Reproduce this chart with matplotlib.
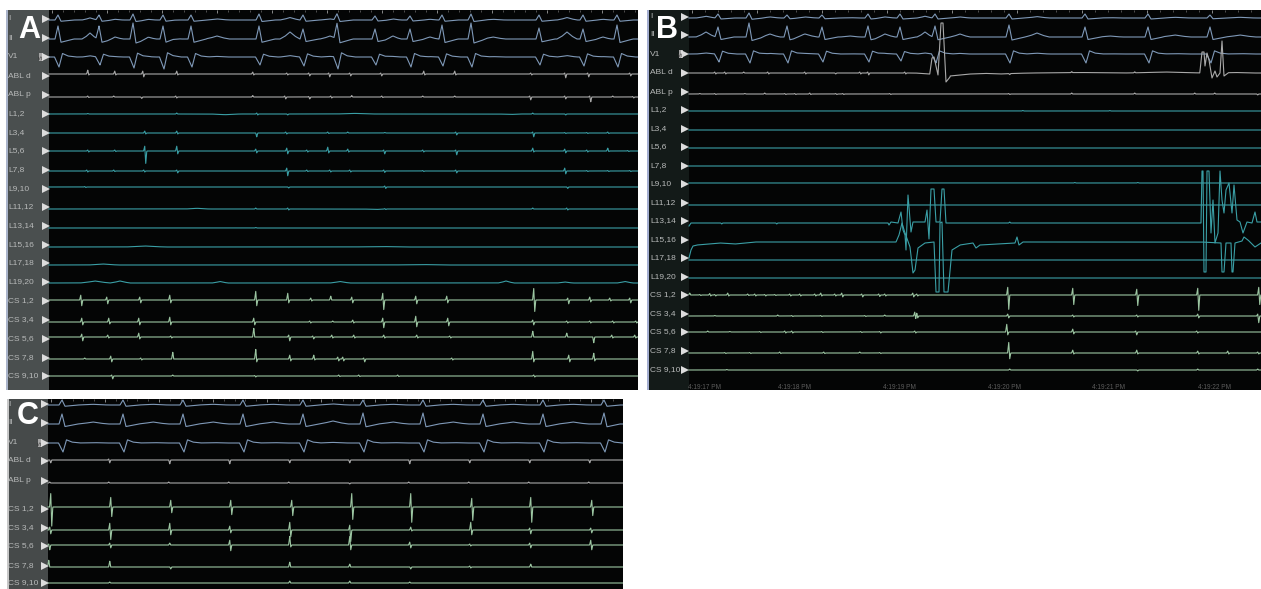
import numpy as np
import matplotlib
matplotlib.use('Agg')
import matplotlib.pyplot as plt

plt.rcParams['font.family'] = ['Liberation Sans', 'DejaVu Sans']

W, H = 1261, 589

ecg_color = '#7f99b8'
abl_color = '#a9a9a9'
lasso_color = '#3a9fa6'
cs_color = '#9cc6a2'

labels_full = ['I', 'II', 'V1', 'ABL d', 'ABL p', 'L1,2', 'L3,4', 'L5,6', 'L7,8', 'L9,10', 'L11,12',
               'L13,14', 'L15,16', 'L17,18', 'L19,20', 'CS 1,2', 'CS 3,4', 'CS 5,6', 'CS 7,8', 'CS 9,10']
labels_c = ['I', 'II', 'V1', 'ABL d', 'ABL p', 'CS 1,2', 'CS 3,4', 'CS 5,6', 'CS 7,8', 'CS 9,10']

# panel A
a_base = [20, 39, 57, 74, 97, 114, 133, 151, 171, 187, 209, 228, 247, 265, 283, 300, 322, 337, 359, 376]
a_label_y = [19, 38, 57, 76, 95, 114, 133, 151, 170, 189, 207, 226, 245, 263, 282, 301, 320, 339, 358, 376]
a_beats = [58, 99, 133, 163, 191, 259, 303, 337, 375, 410, 442, 471, 539, 583, 617]
a_i = [5, 5, 6, 5, 5, 6, 5, 6, 4, 4, 5, 6, 5, 5, 5]
a_ii = [13, 13, 16, 13, 13, 13, 10, 15, 10, 10, 14, 16, 11, 10, 14]
a_v1 = [10, 8, 11, 12, 10, 8, 9, 12, 8, 10, 9, 10, 8, 9, 10]
a_waves = [(90, 6, 8), (115, 2, 8), (148, 2, 8), (173, 1, 8), (217, 3, 12), (290, 7, 10), (330, 3, 10),
           (393, 3, 8), (430, 2, 8), (493, 2, 12), (567, 7, 10), (603, 2, 8)]
a_spikes = {
    'ABL d': [(88, 4, 1), (115, 3, 1), (143, 3, 3), (177, 3, 1), (253, 2, 1), (287, 1, 1), (309, 1, 2), (329, 1, 3),
              (350, 1, 2), (381, 1, 2), (424, 3, 1), (455, 3, 1), (531, 1, 1), (565, 1, 4), (588, 1, 3), (630, 1, 2)],
    'ABL p': [(88, 1, .5), (114, 1, 0), (141, 0, 1.5), (176, 1, 1), (253, 1.5, 0), (285, 1, 2), (309, .5, 2), (331, 1, 1),
              (352, 1.5, 0), (382, 1, .5), (423, 1, 0), (455, 1, 0), (530, 1, 3), (565, 1, 2), (590, 1, 5), (613, 1, 0),
              (633, .5, 1)],
    'L1,2': [(88, .5, 0), (177, 1, 0), (257, 1, 1), (287, 0, 1), (533, 1, 0), (565, 0, 1)],
    'L3,4': [(145, 2, 1), (177, 2, 1), (256, 0, 4), (286, 1, 1), (328, 1, .5), (348, 1, 0), (385, .5, 0), (456, 1, 2),
             (533, 1, 4), (565, .5, .5), (587, .5, .5), (608, 1, .5)],
    'L5,6': [(88, 1, 1), (115, 1, .5), (145, 5, 13), (177, 5, 3), (256, 2, 2), (287, 3, 3), (307, 1, 1), (328, 4, 2),
             (348, 2, 1), (384, 1, 3), (423, 1, 1), (456, 1, 4), (533, 3, 1), (565, 2, 2), (587, 1, 1), (608, 3, .5),
             (628, .5, .5)],
    'L7,8': [(87, 1, 1), (114, 1, .5), (144, 1, 1), (177, 1, 2), (287, 3, 5), (307, 1, .5), (330, 1, 1), (350, 1, 1),
             (384, 1, 1.5), (423, .5, .5), (456, 1, 2), (565, 3, 3), (587, .5, .5), (608, .5, .5), (630, .5, .5)],
    'L9,10': [(85, .5, .5), (288, 0, 1), (385, 1, 1.5), (567, 0, 1.5)],
    'L11,12': [(256, 1, 0), (288, 1, 1), (385, .5, .5), (533, 1, 0), (567, 1, 1)],
    'L13,14': [(256, .5, 0)],
    'CS 1,2': [(81, 5, 6), (107, 3, 4), (140, 3, 3), (170, 5, 3), (256, 9, 6), (288, 7, 3), (311, 2, 1), (331, 4, 0),
               (352, 3, 3), (383, 7, 10), (416, 4, 4), (447, 4, 3), (534, 12, 12), (568, 2, 4), (590, 3, 2), (610, 2, 1),
               (630, 2, 3)],
    'CS 3,4': [(82, 4, 3), (109, 4, 2), (139, 4, 3), (170, 5, 3), (254, 4, 3), (310, 1, 1), (333, 1, 0), (353, 2, 1),
               (383, 4, 6), (416, 6, 5), (448, 4, 4), (533, 2, 3), (567, 1, 1), (590, 1, 1), (613, 1, 1), (636, 1, 1)],
    'CS 5,6': [(82, 3, 4), (108, 2, 1), (139, 4, 2), (171, 1, 1), (254, 9, 0), (289, 2, 4), (313, 1, 2), (332, 2, 1),
               (354, 2, 1), (384, 2, 1), (417, 2, 1), (450, 1, 1), (533, 6, 0), (567, 4, 0), (593, 0, 6), (612, 2, 1),
               (635, 2, 1)],
    'CS 7,8': [(85, 1, 0), (111, 3, 3), (141, 1, 1), (173, 7, 0), (256, 10, 3), (290, 4, 2), (314, 4, 1), (338, 2, 2),
               (343, 2, 2), (364, 1, 3), (452, 1, 1), (533, 8, 3), (569, 4, 3), (594, 6, 2)],
    'CS 9,10': [(112, 1, 3), (173, 1, 0), (255, .5, 1), (339, 1, .5), (359, 1, .5), (398, 1, .5), (534, 1, 1)],
}
a_slow = {
    'L1,2': [(225, -.7, 15), (355, .6, 20), (510, -.5, 12)],
    'L15,16': [(145, 1, 20), (380, .5, 30)],
    'L17,18': [(103, 1, 15), (420, .5, 30)],
    'L19,20': [(95, 2, 15), (120, 2, 10), (220, 1.5, 8), (340, 1.5, 10), (506, 2, 8), (565, 1, 8), (625, 1.5, 8)],
    'L11,12': [(197, .7, 12), (375, -.5, 12)],
}

# panel B
b_base = [18, 37, 54, 73, 94, 111, 130, 148, 166, 183, 205, 223, 242, 260, 278, 295, 316, 332, 353, 370]
b_label_y = [17, 35, 54, 73, 92, 110, 129, 147, 166, 184, 203, 221, 240, 258, 277, 295, 314, 332, 351, 370]
b_beats = [718, 749, 787, 822, 868, 900, 935, 1009, 1085, 1148, 1210]
b_i = [4, 5, 3, 3, 4, 4, 4, 4, 4, 4, 3]
b_ii = [10, 14, 11, 10, 11, 10, 11, 12, 10, 10, 10]
b_v1 = [8, 9, 9, 8, 8, 7, 9, 9, 9, 9, 9]
b_waves = [(706, 5, 10), (770, 3, 10), (805, 3, 12), (850, 1, 10), (885, 3, 10), (925, 5, 8), (960, 3, 10),
           (1037, 4, 12), (1110, 1, 12), (1175, 2, 15), (1240, 2, 15)]
b_spikes = {
    'ABL d': [(715, 1, 1), (725, 1, 1), (744, 1, 0), (768, 1, 1), (805, 1, 1), (835, 0, 1), (860, 1, 1), (868, 1, 2),
              (905, 1, 1), (1009, 0, 1), (1072, 1, 0), (1135, 1, 0)],
    'ABL p': [(700, .5, 0), (715, .5, .5), (745, .5, 0), (765, 1, 0), (785, .5, .5), (795, .5, .5), (810, 1, .5),
              (836, .5, .5), (843, .5, .5), (890, .5, .5), (1009, .5, .5), (1072, 1, 0), (1135, 1, 0), (1195, 1, 0),
              (1215, 1, 0), (1257, 0, 1)],
    'L9,10': [(1075, .5, 0), (1138, .5, 0)],
    'L1,2': [(1023, .5, 0), (1110, .4, 0)],
    'L13,14': [(721, 0, 1), (776, 0, 1), (1010, 1, 0)],
    'CS 1,2': [(690, 2, 0), (700, .5, .5), (710, 1.5, 1), (715, .5, 1), (728, 2, 1), (748, 1, .5), (755, 1, 1), (765, .5, 1),
               (775, .5, .5), (790, 1, 1), (800, 1, 1), (815, 1, 1), (821, 2, 1), (835, 1, 1), (842, 2, 2), (862, 1, 2),
               (879, 1, 1.5), (885, 1, 1), (913, 2, 2), (917, 1, 1), (1008, 8, 15), (1073, 7, 10), (1137, 6, 11),
               (1198, 7, 16), (1259, 8, 10)],
    'CS 3,4': [(715, .5, 0), (778, 1, 0), (792, .5, .5), (821, .5, .5), (865, .5, .5), (885, 1, 0), (915, 4, 3), (917, 3, 2),
               (1008, 2, 2), (1073, 1, 1), (1137, 1, 1), (1198, 2, 2), (1258, 2, 7)],
    'CS 5,6': [(708, 1, 0), (730, .5, 0), (760, .5, .5), (785, 1, 1), (792, 1, 1), (822, .5, .5), (861, .5, .5), (880, .5, 1),
               (915, 1, 1), (1007, 8, 3), (1073, 3, 2), (1136, 1, 3), (1197, 1, 1)],
    'CS 7,8': [(725, .5, .5), (750, .5, .5), (780, 1, .5), (824, 1, .5), (860, 1, 0), (880, .5, .5), (1009, 11, 6),
               (1073, 3, 1), (1137, 3, 1), (1198, 2, 1), (1228, 2, 1), (1258, 1, 1)],
    'CS 9,10': [(727, .5, 0), (1010, 1, 0), (1137, 0, 1), (1198, 1, 0), (1258, 1, 0)],
}
b_slow = {
    'ABL d': [(950, -3, 35), (1000, -1, 30), (1080, .5, 50), (1165, 1, 40), (1235, .5, 20)],
}
# traced artefact segments, x and y
b_paths = {
    'ABL d': [[(930, 72), (932, 58), (934, 57), (938, 75), (941, 23), (943, 23), (946, 82), (950, 77)],
              [(1200, 71), (1202, 52), (1204, 52), (1205, 66), (1207, 53), (1209, 60), (1212, 78), (1215, 71), (1217, 77),
               (1220, 73), (1222, 41), (1224, 76), (1228, 73)]],
    'L13,14': [[(689, 226), (691, 223)],
               [(888, 223), (889, 225), (891, 222), (898, 223), (901, 212), (903, 230), (905, 235), (906, 250), (908, 195),
                (911, 232), (913, 222), (925, 222), (927, 210), (929, 239), (931, 189), (934, 189), (936, 222), (940, 222),
                (942, 189), (944, 189), (946, 223)],
               [(1201, 223), (1202, 171), (1203, 171), (1204, 272), (1206, 272), (1207, 171), (1209, 171), (1211, 233),
                (1213, 200), (1215, 243), (1218, 233), (1220, 171), (1222, 200), (1224, 213), (1226, 190), (1229, 183),
                (1232, 213), (1234, 185), (1237, 220), (1240, 222), (1243, 233), (1247, 222), (1252, 223), (1255, 212),
                (1257, 222), (1261, 222)]],
    'L15,16': [[(689, 258), (691, 250), (693, 246), (697, 245), (720, 243), (735, 244), (755, 242)],
               [(896, 242), (899, 235), (902, 223), (904, 230), (910, 247), (913, 273), (915, 270), (918, 248), (925, 243),
                (934, 242), (936, 292), (939, 292), (940, 223), (942, 222), (944, 292), (948, 292), (952, 250), (960, 245),
                (973, 243), (976, 248), (980, 245), (1015, 243), (1017, 237), (1019, 245), (1023, 242)],
               [(1201, 242), (1221, 243), (1222, 272), (1224, 272), (1226, 243), (1231, 243), (1232, 272), (1233, 272),
                (1235, 243), (1242, 241), (1244, 237), (1248, 240), (1255, 247), (1261, 243)]],
}
time_x = [705, 795, 899, 1004, 1109, 1214]
time_labels = ['4:19:17 PM', '4:19:18 PM', '4:19:19 PM', '4:19:20 PM', '4:19:21 PM', '4:19:22 PM']

# panel C
c_base = [405, 424, 443, 460, 483, 507, 530, 545, 567, 583]
c_label_y = [404, 423, 443, 461, 481, 509, 528, 546, 566, 583]
c_beats = [62, 123, 183, 243, 303, 363, 423, 483, 543, 604]
c_i = [5, 5, 5, 5, 5, 5, 5, 5, 5, 5]
c_ii = [10, 10, 10, 10, 10, 11, 11, 10, 10, 11]
c_v1 = [9, 9, 9, 9, 9, 9, 9, 9, 9, 9]
c_waves = [(93, 2, 15), (153, 2, 15), (213, 2, 15), (273, 2, 15), (333, 3, 15), (393, 2, 15), (453, 2, 15), (513, 2, 15),
           (573, 2, 15)]
c_spikes = {
    'ABL d': [(50, 0, 3), (109, 1, 3), (169, 0, 4), (229, 0, 4), (289, 0, 3), (349, 0, 3), (409, 0, 4), (469, 0, 3),
              (529, 0, 3), (589, 0, 3)],
    'ABL p': [(50, 1, 0), (109, 1, 0), (169, 1, 0), (229, 1, 0), (289, 1, 0), (349, 0, 1), (409, 1, 0), (469, 1, 0),
              (529, 1, 0), (589, 1, 0)],
    'CS 1,2': [(51, 14, 20), (111, 10, 10), (171, 7, 6), (231, 7, 8), (292, 7, 9), (352, 14, 13), (411, 14, 16), (472, 9, 14),
               (531, 10, 16), (592, 7, 9)],
    'CS 3,4': [(50, 3, 4), (110, 7, 10), (170, 7, 5), (230, 4, 3), (290, 8, 7), (350, 5, 12), (411, 3, 1), (471, 8, 5),
               (530, 2, 4), (591, 2, 3)],
    'CS 5,6': [(49, 1, 5), (110, 2, 3), (170, 2, 0), (230, 5, 6), (290, 9, 2), (350, 9, 5), (410, 3, 3), (470, 1, 1),
               (530, 2, 3), (591, 5, 5)],
    'CS 7,8': [(49, 7, 0), (110, 6, 0), (170, 0, 2), (290, 5, 0), (350, 3, 0), (410, 0, 2), (470, 1, 1), (531, 3, 0)],
    'CS 9,10': [(110, 1, 0), (290, 2, 0), (350, 2, 0), (410, 1, 0)],
}


def spike_knots(x, up, dn):
    return [x - 1.4, x - .2, x + .7, x + 1.8], [0, up, -dn, 0]


def bump(grid, x, h, w):
    return np.interp(grid, [x - w, x - w / 2, x, x + w / 2, x + w], [0, .4 * h, h, .4 * h, 0])


def qrs(grid, x, amp):
    # upright beat with a slow dip straight after it
    return np.interp(grid, [x - 3, x, x + 3, x + 8, x + 16], [0, amp, -.25 * amp, -.15 * amp, 0])


def qrs_v1(grid, x, amp):
    return np.interp(grid, [x - 3.5, x + 1, x + 4.5, x + 10, x + 18], [0, -amp, .35 * amp, .1 * amp, 0])


def trace(grid, base, spikes=(), slow=(), paths=()):
    y = np.zeros_like(grid)
    for x, up, dn in spikes:
        kx, ky = spike_knots(x, up, dn)
        y += np.interp(grid, kx, ky)
    for x, h, w in slow:
        y += bump(grid, x, h, w)
    y = base - y
    for seg in paths:
        px = [p[0] for p in seg]
        py = [p[1] for p in seg]
        inside = (grid >= px[0]) & (grid <= px[-1])
        y[inside] = np.interp(grid[inside], px, py)
    return y


def draw_panel(rect, col_end, col_color, border, labels, base, label_y, beats, i_amp, ii_amp, v1_amp, waves,
               spikes, slow, paths, letter, letter_xy, text_x, tri_x, s_box, minor_step, lw):
    left, top, right, bottom = rect
    ax = fig.add_axes([left / W, 1 - bottom / H, (right - left) / W, (bottom - top) / H])
    ax.set_xlim(left, right)
    ax.set_ylim(bottom, top)
    ax.set_facecolor('#040505')
    for s in ax.spines.values():
        s.set_visible(False)
    ax.axvspan(left, col_end, color=col_color, lw=0)
    ax.axvspan(left, left + 2, color=border, lw=0)

    # sweep ruler along the top edge
    ax.set_xticks(np.arange(col_end + 3, right, minor_step * 5))
    ax.set_xticks(np.arange(col_end + 3, right, minor_step), minor=True)
    ax.set_yticks([])
    ax.tick_params(axis='x', which='major', top=True, bottom=False, labelbottom=False, direction='in', length=2.5,
                   width=.5, color='#bdbdbd')
    ax.tick_params(axis='x', which='minor', top=True, bottom=False, direction='in', length=1.2, width=.4, color='#8a8a8a')

    grid = np.arange(col_end, right + .25, .25)
    ecg_i = trace(grid, base[0], slow=[(x, .35 * h, w) for x, h, w in waves])
    ecg_ii = trace(grid, base[1], slow=waves)
    ecg_v1 = trace(grid, base[2], slow=[(x, .2 * h, w) for x, h, w in waves])
    for x, a, b, c in zip(beats, i_amp, ii_amp, v1_amp):
        ecg_i -= qrs(grid, x, a)
        ecg_ii -= qrs(grid, x, b)
        ecg_v1 -= qrs_v1(grid, x, c)
    ax.plot(grid, ecg_i, color=ecg_color, lw=lw)
    ax.plot(grid, ecg_ii, color=ecg_color, lw=lw)
    ax.plot(grid, ecg_v1, color=ecg_color, lw=lw)

    for name, b in zip(labels[3:], base[3:]):
        color = abl_color if name.startswith('ABL') else lasso_color if name.startswith('L') else cs_color
        y = trace(grid, b, spikes.get(name, ()), slow.get(name, ()), paths.get(name, ()))
        ax.plot(grid, y, color=color, lw=lw, solid_joinstyle='round')

    for name, y in zip(labels, label_y):
        ax.text(text_x, y, name, color='#b8baba', fontsize=6, va='center', ha='left')
        ax.plot([tri_x], [y], marker='>', ms=6, color='#dddddd', mew=0, clip_on=False)

    ax.add_patch(plt.Rectangle((s_box, label_y[2] - 4), 4, 8, fc='#a5a5a5', ec='none'))
    ax.text(s_box + 2, label_y[2], 'S', color='#333333', fontsize=4, rotation=90, ha='center', va='center')
    ax.text(letter_xy[0], letter_xy[1], letter, color='white', fontsize=22, fontweight='bold', ha='left', va='baseline')
    return ax


fig = plt.figure(figsize=(W / 100, H / 100), dpi=100, facecolor='white')

draw_panel((6, 10, 638, 390), 49, '#4a4f4f', '#aab4ca', labels_full, a_base, a_label_y, a_beats, a_i, a_ii, a_v1, a_waves,
           a_spikes, a_slow, {}, 'A', (18, 38.5), 8, 45.5, 39, 11.0, .8)
ax_b = draw_panel((647, 10, 1261, 390), 689, '#131a18', '#a4aed0', labels_full, b_base, b_label_y, b_beats, b_i, b_ii, b_v1,
                  b_waves, b_spikes, b_slow, b_paths, 'B', (656, 38.5), 650, 685.5, 679, 13.0, .8)
draw_panel((7, 399, 623, 589), 48, '#464a4a', '#c8c8c8', labels_c, c_base, c_label_y, c_beats, c_i, c_ii, c_v1, c_waves,
           c_spikes, {}, {}, 'C', (17, 424.5), 8, 44.5, 38, 54.0 / 5, .8)

for x, label in zip(time_x, time_labels):
    ax_b.text(x, 387.5, label, color='#5c5c5c', fontsize=4.7, ha='center', va='center')

fig.savefig('out.png', dpi=100)
